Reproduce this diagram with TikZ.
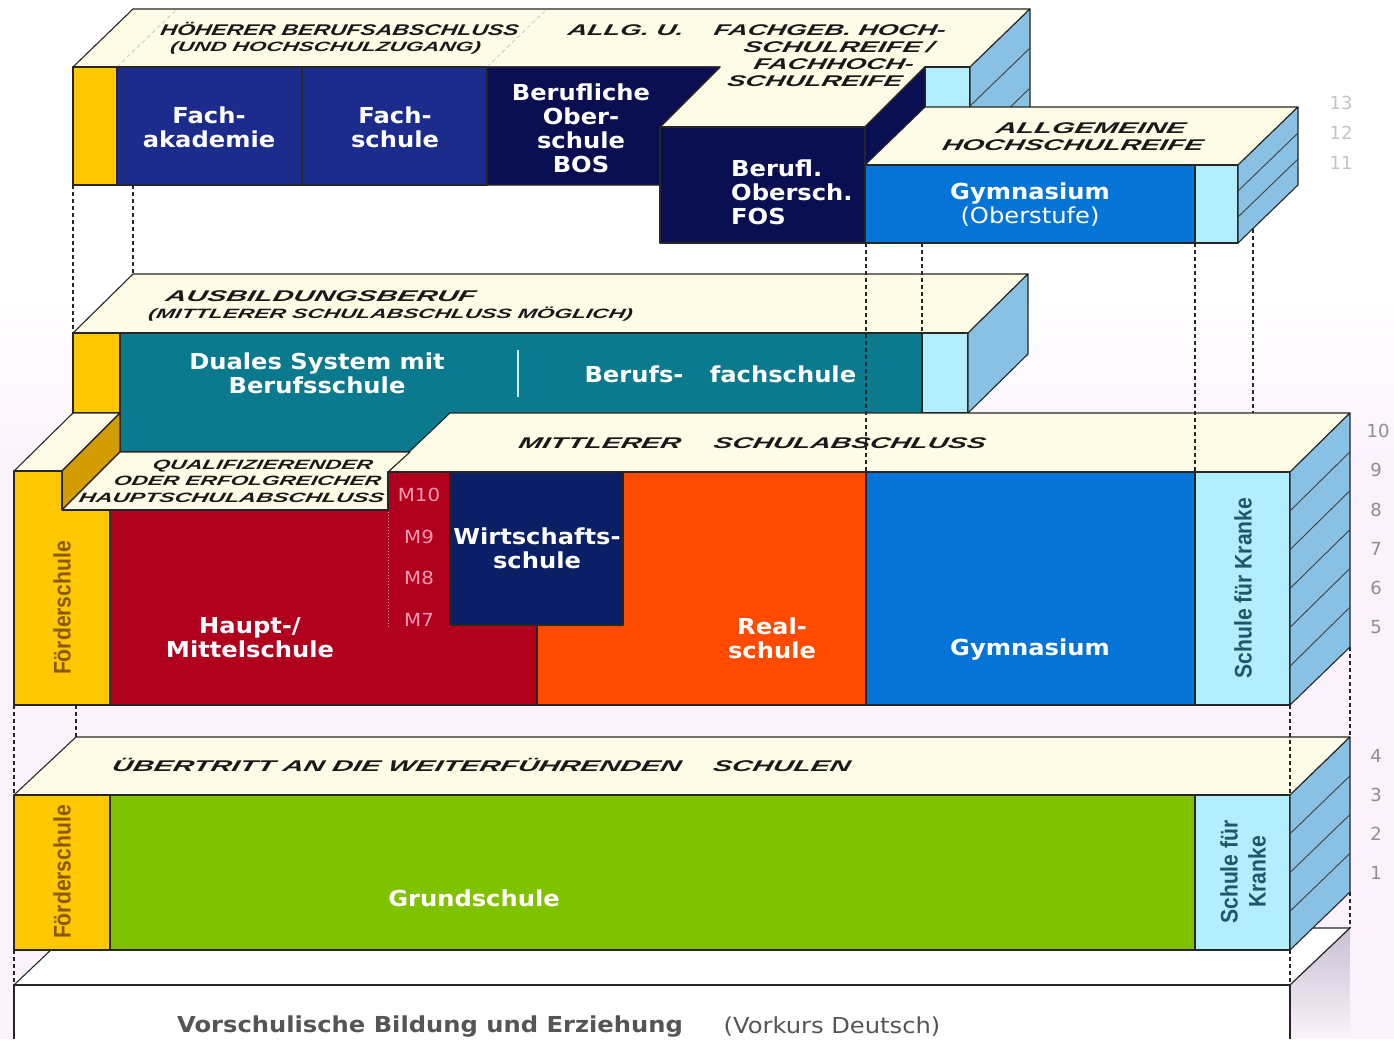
\documentclass[tikz,border=0pt]{standalone}
\usepackage{graphicx}
\usepackage{fontspec}
\setmainfont{DejaVu Sans}
\newfontfamily\bx[FakeStretch=1.1]{DejaVu Sans}
\newfontfamily\capfam[FakeSlant=0.12]{Liberation Sans}
\newfontfamily\condf[FakeStretch=0.88]{Liberation Sans}
\newcommand\fw[2]{\resizebox{#1pt}{\height}{#2}}
\definecolor{fy}{HTML}{FFC700}
\definecolor{fyd}{HTML}{D29B00}
\definecolor{cream}{HTML}{FEFCE7}
\definecolor{fblue}{HTML}{1C2C8C}
\definecolor{navy}{HTML}{0A0F52}
\definecolor{gblue}{HTML}{0673D6}
\definecolor{lcyan}{HTML}{B2EEFB}
\definecolor{sblue}{HTML}{88C1E3}
\definecolor{dteal}{HTML}{0C7A8E}
\definecolor{hred}{HTML}{B1001E}
\definecolor{wnavy}{HTML}{0B1F66}
\definecolor{rorange}{HTML}{FF4A00}
\definecolor{ggreen}{HTML}{80C100}
\definecolor{lav}{HTML}{FCF2FC}
\definecolor{kteal}{HTML}{1F5668}
\definecolor{fbrown}{HTML}{8A5A00}
\definecolor{mpink}{HTML}{F39AAE}
\definecolor{numg}{HTML}{8E8E8E}
\definecolor{numl}{HTML}{C4C4C4}
\definecolor{vgrey}{HTML}{555555}
\definecolor{sidegr}{HTML}{C9C0D2}
\tikzset{
  face/.style={draw=black!85, line width=1.1pt, line join=round},
  edge/.style={draw=black!85, line width=1.1pt},
  hatch/.style={draw=black!75, line width=0.9pt},
  dashln/.style={draw=black!85, line width=1.3pt, dash pattern=on 4pt off 3pt},
  wl/.style={text=white, font=\bx\bfseries\fontsize{22}{24}\selectfont, align=center, inner sep=0pt},
  capb/.style={font=\capfam\bfseries\itshape\fontsize{15.5}{17}\selectfont, text=black!90, inner sep=0pt, anchor=base},
  caps/.style={font=\capfam\bfseries\itshape\fontsize{13.5}{15}\selectfont, text=black!90, inner sep=0pt, anchor=base},
  rot/.style={rotate=90, font=\condf\bfseries\fontsize{24}{28}\selectfont, inner sep=0pt, align=center},
  num/.style={font=\fontsize{18}{20}\selectfont, text=numg, inner sep=0pt},
  numtop/.style={font=\fontsize{18}{20}\selectfont, text=numl, inner sep=0pt},
  mlab/.style={font=\bx\fontsize{18}{20}\selectfont, text=mpink, inner sep=0pt}
}
\begin{document}
\begin{tikzpicture}[x=1pt,y=-1pt]
\useasboundingbox (0,0) rectangle (1394,1039);
% background
\fill[white] (0,0) rectangle (1394,1039);
\shade[top color=white, bottom color=lav] (0,300) rectangle (1394,470);
\fill[lav] (0,470) rectangle (1394,1039);

% ---------- Vorschule slab ----------
\path[face,fill=white] (14,985) -- (74,928) -- (1350,928) -- (1290,985) -- cycle;
\shade[top color=sidegr, bottom color=lav] (1290,985) -- (1350,928) -- (1350,1039) -- (1290,1039) -- cycle;
\draw[edge] (1290,985) -- (1350,928);
\fill[white] (14,985) rectangle (1290,1039);
\draw[edge] (14,1039) -- (14,985) -- (1290,985) -- (1290,1039);
\node[font=\bx\bfseries\fontsize{22}{24}\selectfont, text=vgrey, inner sep=0pt] (vs1) at (430,1027) {Vorschulische Bildung und Erziehung};
\node[font=\bx\fontsize{22}{24}\selectfont, text=vgrey, inner sep=0pt] (vs2) at (832,1027) {(Vorkurs Deutsch)};

% ---------- top block ----------
\path[face,fill=cream] (73,67) -- (720,67) -- (660,127) -- (865,127) -- (925,67) -- (970,67) -- (1030,9) -- (133,9) -- cycle;
\draw[gray!45, line width=0.8pt, dash pattern=on 4pt off 3pt] (117,67) -- (177,9);
\draw[gray!45, line width=0.8pt, dash pattern=on 4pt off 3pt] (487,67) -- (547,9);
\path[face,fill=fy] (73,67) rectangle (117,185);
\path[face,fill=fblue] (117,67) rectangle (302,185);
\path[face,fill=fblue] (302,67) rectangle (487,185);
\path[face,fill=navy] (487,67) -- (720,67) -- (660,127) -- (660,185) -- (487,185) -- cycle;
\path[face,fill=lcyan] (925,67) rectangle (970,185);
\path[face,fill=sblue] (970,67) -- (1030,9) -- (1030,127) -- (970,185) -- cycle;
\draw[hatch] (970,106) -- (1030,48);
\draw[hatch] (970,146) -- (1030,88);
% FOS
\path[face,fill=navy] (865,127) -- (925,67) -- (925,185) -- (865,243) -- cycle;
\path[face,fill=navy] (660,127) rectangle (865,243);
% Gymnasium Oberstufe
\path[face,fill=cream] (865,165) -- (925,107) -- (1298,107) -- (1238,165) -- cycle;
\path[face,fill=gblue] (865,165) rectangle (1195,243);
\path[face,fill=lcyan] (1195,165) rectangle (1238,243);
\path[face,fill=sblue] (1238,165) -- (1298,107) -- (1298,185) -- (1238,243) -- cycle;
\draw[hatch] (1238,191) -- (1298,133);
\draw[hatch] (1238,217) -- (1298,159);

\node[capb] (lHB) at (339,35.5) {\fw{358}{HÖHERER BERUFSABSCHLUSS}};
\node[caps] (lUH) at (325,51) {\fw{310}{(UND HOCHSCHULZUGANG)}};
\node[capb] (lAU) at (625,35.5) {\fw{116}{ALLG. U.}};
\node[capb] (lFH) at (829,35.5) {\fw{232}{FACHGEB. HOCH-}};
\node[capb] (lSR1) at (838,52.5) {\fw{190}{SCHULREIFE\,/}};
\node[capb] (lFHO) at (833,69.5) {\fw{160}{FACHHOCH-}};
\node[capb] (lSR2) at (814,86.5) {\fw{175}{SCHULREIFE}};
\node[capb] (lAL) at (1090,133.5) {\fw{190}{ALLGEMEINE}};
\node[capb] (lHS) at (1072,150.5) {\fw{261}{HOCHSCHULREIFE}};

\node[wl] (fak) at (209,127) {Fach-\\akademie};
\node[wl] (fsch) at (395,127) {Fach-\\schule};
\node[wl] (bos) at (581,128) {Berufliche\\Ober-\\schule\\BOS};
\node[wl, align=left, anchor=west] (fos) at (731,192) {Berufl.\\Obersch.\\FOS};
\node[wl] (gyo) at (1030,205) {Gymnasium\\{\mdseries (Oberstufe)}};

% ---------- Ausbildungsberuf block ----------
\path[face,fill=cream] (73,333) -- (133,274) -- (1028,274) -- (968,333) -- cycle;
\path[face,fill=fy] (73,333) rectangle (120,413);
\path[face,fill=dteal] (120,333) rectangle (922,452);
\path[face,fill=lcyan] (922,333) rectangle (968,413);
\path[face,fill=sblue] (968,333) -- (1028,274) -- (1028,354) -- (968,413) -- cycle;
\draw[lcyan!80, line width=1.5pt] (518,350) -- (518,397);
\node[capb] (lAB) at (320,301.5) {\fw{310}{AUSBILDUNGSBERUF}};
\node[caps] (lMS) at (390,318) {\fw{484}{(MITTLERER SCHULABSCHLUSS MÖGLICH)}};
\node[wl] (dual) at (317,373) {Duales System mit\\Berufsschule};
\node[wl] (bf1) at (634,374) {Berufs-};
\node[wl] (bf2) at (783,374) {fachschule};

% ---------- lower block (Sekundarstufe I) ----------
\path[face,fill=cream] (388,472) -- (450,413) -- (1350,413) -- (1290,472) -- cycle;
\path[face,fill=cream] (14,471) -- (73,413) -- (120,413) -- (62,471) -- cycle;
\path[face,fill=fyd] (62,471) -- (120,413) -- (120,452) -- (62,510) -- cycle;
\path[face,fill=cream] (62,510) -- (120,452) -- (410,452) -- (388,472) -- (388,510) -- cycle;
\path[face,fill=fy] (14,471) -- (62,471) -- (62,510) -- (110,510) -- (110,705) -- (14,705) -- cycle;
\path[face,fill=hred] (110,510) -- (388,510) -- (388,472) -- (537,472) -- (537,705) -- (110,705) -- cycle;
\path[face,fill=rorange] (537,472) rectangle (866,705);
\path[face,fill=wnavy] (450,472) rectangle (623,625);
\path[face,fill=gblue] (866,472) rectangle (1195,705);
\path[face,fill=lcyan] (1195,472) rectangle (1290,705);
\path[face,fill=sblue] (1290,472) -- (1350,413) -- (1350,647) -- (1290,705) -- cycle;
\foreach \k in {1,...,5} {\draw[hatch] (1290,472+38.83*\k) -- (1350,413+38.83*\k);}
\draw[mpink, line width=1pt, dotted] (388,512) -- (388,628);

\node[capb] (lMI) at (599,448.5) {\fw{162}{MITTLERER}};
\node[capb] (lSA) at (849,448.5) {\fw{272}{SCHULABSCHLUSS}};
\node[caps] (lQ1) at (262,469) {\fw{220}{QUALIFIZIERENDER}};
\node[caps] (lQ2) at (247,485.5) {\fw{267}{ODER ERFOLGREICHER}};
\node[caps] (lQ3) at (231,502) {\fw{305}{HAUPTSCHULABSCHLUSS}};
\node[mlab] (m10) at (419,495) {M10};
\node[mlab] (m9) at (419,537) {M9};
\node[mlab] (m8) at (419,578) {M8};
\node[mlab] (m7) at (419,620) {M7};
\node[wl] (haupt) at (250,638) {Haupt-/\\Mittelschule};
\node[wl] (wirt) at (537,548) {Wirtschafts-\\schule};
\node[wl] (real) at (772,638) {Real-\\schule};
\node[wl] (gymu) at (1030,650) {Gymnasium};
\node[rot, text=fbrown] (foe1) at (62,608) {Förderschule};
\node[rot, text=kteal] (kr1) at (1243,588) {Schule für Kranke};

% ---------- Grundschule block ----------
\path[face,fill=cream] (14,795) -- (76,737) -- (1350,737) -- (1290,795) -- cycle;
\path[face,fill=fy] (14,795) rectangle (110,950);
\path[face,fill=ggreen] (110,795) rectangle (1195,950);
\path[face,fill=lcyan] (1195,795) rectangle (1290,950);
\path[face,fill=sblue] (1290,795) -- (1350,737) -- (1350,892) -- (1290,950) -- cycle;
\foreach \k in {1,2,3} {\draw[hatch] (1290,795+38.75*\k) -- (1350,737+38.75*\k);}
\node[capb] (lUE) at (396,771.5) {\fw{569}{ÜBERTRITT AN DIE WEITERFÜHRENDEN}};
\node[capb] (lSC) at (781,771.5) {\fw{137}{SCHULEN}};
\node[wl] (grund) at (474,898) {Grundschule};
\node[rot, text=fbrown] (foe2) at (62,872) {Förderschule};
\node[rot, text=kteal] (kr2) at (1243,872) {Schule für\\Kranke};

% ---------- year numbers ----------
\node[numtop] (y13) at (1341,103) {13};
\node[numtop] (y12) at (1341,133) {12};
\node[numtop] (y11) at (1341,163) {11};
\node[num] (y10) at (1378,431) {10};
\node[num] (y9) at (1376,470) {9};
\node[num] (y8) at (1376,510) {8};
\node[num] (y7) at (1376,549) {7};
\node[num] (y6) at (1376,588) {6};
\node[num] (y5) at (1376,627) {5};
\node[num] (y4) at (1376,756) {4};
\node[num] (y3) at (1376,795) {3};
\node[num] (y2) at (1376,834) {2};
\node[num] (y1) at (1376,873) {1};

% ---------- dashed connectors ----------
\coordinate (a1) at (73,185);   \coordinate (b1) at (73,333);
\coordinate (a2) at (133,185);  \coordinate (b2) at (133,274);
\coordinate (a3) at (866,243);  \coordinate (b3) at (866,472);
\coordinate (a4) at (922,243);  \coordinate (b4) at (922,413);
\coordinate (a5) at (1195,243); \coordinate (b5) at (1195,472);
\coordinate (a6) at (1253,229); \coordinate (b6) at (1253,413);
\coordinate (a7) at (14,705);   \coordinate (b7) at (14,795);
\coordinate (a8) at (76,705);   \coordinate (b8) at (76,737);
\coordinate (a9) at (1290,705); \coordinate (b9) at (1290,795);
\coordinate (a10) at (1350,647); \coordinate (b10) at (1350,737);
\coordinate (a11) at (14,950);  \coordinate (b11) at (14,985);
\coordinate (a12) at (1290,950); \coordinate (b12) at (1290,985);
\coordinate (a13) at (1350,892); \coordinate (b13) at (1350,928);
\foreach \i in {1,...,13} {\draw[dashln] (a\i) -- (b\i);}
\end{tikzpicture}
\end{document}
